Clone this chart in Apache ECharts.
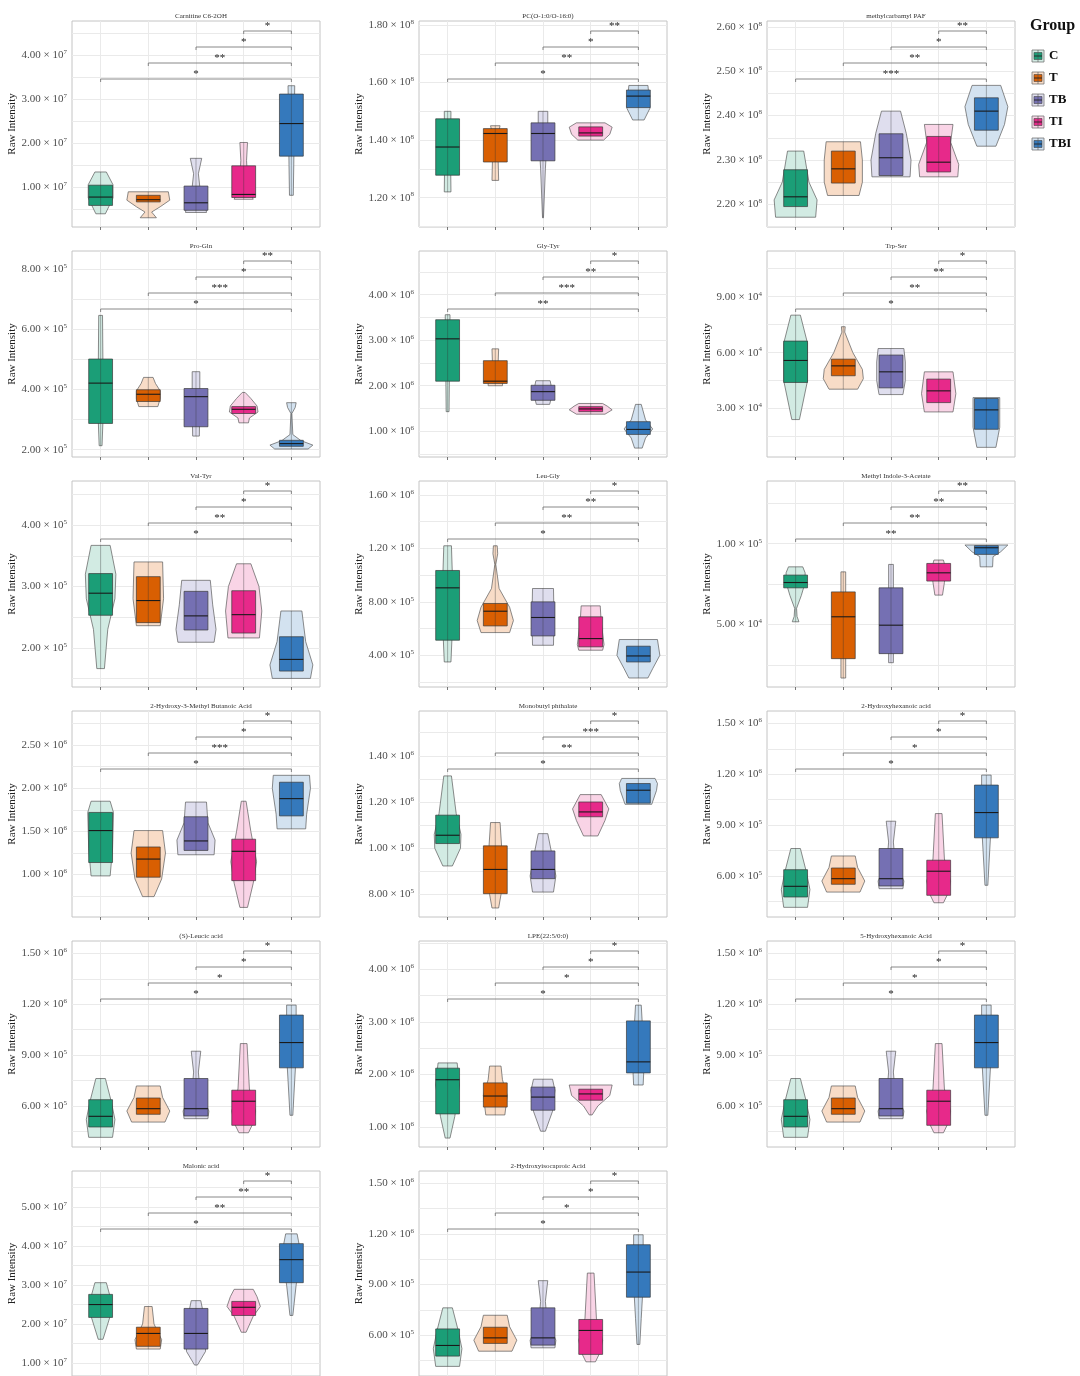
<!DOCTYPE html>
<html>
<head>
<meta charset="utf-8">
<script src="https://cdn.jsdelivr.net/npm/echarts@6/dist/echarts.min.js"></script>
<style>
  html, body { margin: 0; padding: 0; background: #fff; }
  #chart { width: 1080px; height: 1376px; }
</style>
</head>
<body>
<div id="chart"></div>
<script>
const groups = ['C', 'T', 'TB', 'TI', 'TBI'];
const groupColors = ['#1b9e77', '#d95f02', '#7570b3', '#e7298a', '#3579bc'];
const groupLight = ['#d2ebe3', '#f8dcc7', '#dfdeee', '#f9d4e6', '#d3e2f0'];

const panelTitles = [
    'Carnitine C6-2OH', 'PC(O-1:0/O-16:0)', 'methylcarbamyl PAF',
    'Pro-Gln', 'Gly-Tyr', 'Trp-Ser',
    'Val-Tyr', 'Leu-Gly', 'Methyl Indole-3-Acetate',
    '2-Hydroxy-3-Methyl Butanoic Acid', 'Monobutyl phthalate', '2-Hydroxyhexanoic acid',
    '(S)-Leucic acid', 'LPE(22:5/0:0)', '5-Hydroxyhexanoic Acid',
    'Malonic acid', '2-Hydroxyisocaproic Acid'
];
// every value below is in the panel's unit
const panelUnits = [1e7, 1e8, 1e8, 1e5, 1e6, 1e4, 1e5, 1e5, 1e4, 1e6, 1e5, 1e5, 1e5, 1e6, 1e5, 1e7, 1e5];
const panelRanges = [
    [0.09, 4.77], [1.098, 1.814], [2.149, 2.613],
    [1.755, 8.60], [0.434, 4.96], [0.403, 11.45],
    [1.36, 4.72], [1.625, 17.05], [1.136, 13.88],
    [0.509, 2.895], [7.02, 15.94], [3.58, 15.73],
    [3.58, 15.73], [0.62, 4.54], [3.58, 15.73],
    [0.67, 5.92], [3.58, 15.73]
];
const panelTicks = [
    [1, 2, 3, 4], [1.2, 1.4, 1.6, 1.8], [2.2, 2.3, 2.4, 2.5, 2.6],
    [2, 4, 6, 8], [1, 2, 3, 4], [3, 6, 9],
    [2, 3, 4], [4, 8, 12, 16], [5, 10],
    [1, 1.5, 2, 2.5], [8, 10, 12, 14], [6, 9, 12, 15],
    [6, 9, 12, 15], [1, 2, 3, 4], [6, 9, 12, 15],
    [1, 2, 3, 4, 5], [6, 9, 12, 15]
];
// significance of C, T, TB, TI against TBI
const panelSig = [
    ['*', '**', '*', '*'], ['*', '**', '*', '**'], ['***', '**', '*', '**'],
    ['*', '***', '*', '**'], ['**', '***', '**', '*'], ['*', '**', '**', '*'],
    ['*', '**', '*', '*'], ['*', '**', '**', '*'], ['**', '**', '**', '**'],
    ['*', '***', '*', '*'], ['*', '**', '***', '*'], ['*', '*', '*', '*'],
    ['*', '*', '*', '*'], ['*', '*', '*', '*'], ['*', '*', '*', '*'],
    ['*', '**', '**', '*'], ['*', '*', '*', '*']
];

// box stats per group: [min, q1, median, q3, max]
const carnitineBox = [[0.39, 0.58, 0.77, 1.04, 1.34], [0.30, 0.66, 0.71, 0.81, 0.89], [0.42, 0.47, 0.64, 1.02, 1.65], [0.72, 0.76, 0.83, 1.48, 2.01], [0.81, 1.70, 2.44, 3.11, 3.30]];
const pcBox = [[1.22, 1.278, 1.376, 1.474, 1.50], [1.26, 1.324, 1.423, 1.44, 1.45], [1.13, 1.328, 1.423, 1.46, 1.50], [1.40, 1.414, 1.425, 1.446, 1.46], [1.47, 1.513, 1.553, 1.574, 1.59]];
const pafBox = [[2.171, 2.195, 2.217, 2.278, 2.32], [2.22, 2.248, 2.28, 2.32, 2.341], [2.262, 2.265, 2.305, 2.359, 2.41], [2.262, 2.273, 2.295, 2.353, 2.38], [2.331, 2.367, 2.41, 2.44, 2.468]];
const proGlnBox = [[2.13, 2.87, 4.21, 5.01, 6.46], [3.43, 3.60, 3.84, 3.99, 4.40], [2.45, 2.76, 3.76, 4.03, 4.59], [2.89, 3.20, 3.34, 3.43, 3.90], [2.02, 2.11, 2.20, 2.31, 3.56]];
const glyTyrBox = [[1.43, 2.10, 3.03, 3.45, 3.56], [2.0, 2.05, 2.10, 2.55, 2.81], [1.59, 1.68, 1.87, 2.01, 2.11], [1.375, 1.43, 1.49, 1.54, 1.61], [0.63, 0.93, 1.04, 1.21, 1.59]];
const trpSerBox = [[2.41, 4.40, 5.58, 6.62, 8.01], [4.04, 4.76, 5.29, 5.65, 7.39], [3.75, 4.11, 4.97, 5.87, 6.22], [2.82, 3.32, 3.95, 4.58, 4.97], [0.92, 1.89, 2.93, 3.54, 3.59]];
const valTyrBox = [[1.66, 2.53, 2.89, 3.21, 3.67], [2.36, 2.41, 2.77, 3.16, 3.40], [2.09, 2.29, 2.52, 2.92, 3.10], [2.16, 2.24, 2.54, 2.93, 3.37], [1.50, 1.62, 1.81, 2.18, 2.60]];
const leuGlyBox = [[3.5, 5.13, 9.05, 10.35, 12.2], [5.7, 6.2, 7.3, 7.88, 12.2], [4.75, 5.45, 6.83, 8.0, 9.0], [4.38, 4.63, 5.25, 6.88, 7.7], [2.3, 3.5, 3.95, 4.68, 5.18]];
const indoleBox = [[5.17, 7.27, 7.60, 8.06, 8.57], [1.69, 2.89, 5.48, 7.02, 8.26], [2.64, 3.2, 4.96, 7.27, 8.72], [6.82, 7.69, 8.20, 8.78, 8.99], [8.57, 9.34, 9.75, 9.88, 9.92]];
const butanoicBox = [[0.985, 1.14, 1.51, 1.72, 1.85], [0.745, 0.97, 1.18, 1.32, 1.51], [1.23, 1.28, 1.39, 1.67, 1.84], [0.62, 0.93, 1.27, 1.41, 1.85], [1.53, 1.68, 1.88, 2.07, 2.15]];
const phthalateBox = [[9.23, 10.2, 10.56, 11.43, 13.13], [7.41, 8.03, 9.08, 10.1, 11.11], [8.1, 8.68, 9.08, 9.88, 10.63], [10.53, 11.36, 11.57, 12.0, 12.32], [11.9, 11.95, 12.51, 12.8, 13.02]];
const hexanoicBox = [[4.15, 4.76, 5.39, 6.37, 7.62], [5.05, 5.51, 5.84, 6.47, 7.18], [5.25, 5.41, 5.84, 7.62, 9.23], [4.42, 4.86, 6.28, 6.93, 9.68], [5.45, 8.25, 9.74, 11.36, 11.95]];
const lpeBox = [[0.79, 1.25, 1.9, 2.12, 2.22], [1.23, 1.38, 1.59, 1.84, 2.16], [0.92, 1.32, 1.57, 1.76, 1.91], [1.23, 1.51, 1.63, 1.72, 1.80], [1.8, 2.03, 2.24, 3.02, 3.32]];
const malonicBox = [[1.61, 2.17, 2.5, 2.76, 3.06], [1.36, 1.43, 1.76, 1.92, 2.45], [0.95, 1.36, 1.76, 2.4, 2.6], [1.79, 2.22, 2.43, 2.58, 2.89], [2.22, 3.06, 3.65, 4.06, 4.31]];

// violin outline per group: [value, half width in category units], bottom to top
const carnitineViolin = [
    [[0.39, 0.10], [0.75, 0.26], [1.05, 0.26], [1.34, 0.12]],
    [[0.30, 0.17], [0.43, 0.07], [0.55, 0.25], [0.70, 0.45], [0.89, 0.42]],
    [[0.42, 0.22], [0.60, 0.20], [1.00, 0.08], [1.30, 0.05], [1.65, 0.12]],
    [[0.72, 0.20], [0.85, 0.15], [1.20, 0.08], [1.60, 0.06], [2.01, 0.08]],
    [[0.81, 0.04], [1.50, 0.05], [2.50, 0.06], [3.30, 0.07]]
];
const pcViolin = [
    [[1.22, 0.07], [1.36, 0.06], [1.50, 0.07]],
    [[1.26, 0.07], [1.33, 0.06], [1.40, 0.03], [1.45, 0.10]],
    [[1.13, 0.01], [1.30, 0.05], [1.45, 0.10], [1.50, 0.10]],
    [[1.40, 0.27], [1.42, 0.40], [1.445, 0.45], [1.46, 0.30]],
    [[1.47, 0.12], [1.51, 0.24], [1.555, 0.22], [1.59, 0.20]]
];
const pafViolin = [
    [[2.171, 0.42], [2.21, 0.45], [2.25, 0.28], [2.32, 0.17]],
    [[2.22, 0.33], [2.25, 0.40], [2.30, 0.40], [2.341, 0.36]],
    [[2.262, 0.40], [2.30, 0.42], [2.36, 0.32], [2.41, 0.20]],
    [[2.262, 0.40], [2.29, 0.42], [2.34, 0.25], [2.38, 0.30]],
    [[2.331, 0.20], [2.38, 0.38], [2.42, 0.45], [2.468, 0.30]]
];
const proGlnViolin = [
    [[2.13, 0.03], [3.0, 0.05], [4.5, 0.05], [6.46, 0.04]],
    [[3.43, 0.20], [3.70, 0.25], [3.95, 0.25], [4.20, 0.15], [4.40, 0.10]],
    [[2.45, 0.07], [3.5, 0.08], [4.59, 0.08]],
    [[2.89, 0.10], [3.05, 0.12], [3.25, 0.30], [3.45, 0.28], [3.70, 0.15], [3.90, 0.03]],
    [[2.02, 0.35], [2.15, 0.45], [2.30, 0.20], [2.50, 0.03], [3.20, 0.01], [3.40, 0.08], [3.56, 0.10]]
];
const glyTyrViolin = [
    [[1.43, 0.03], [2.5, 0.04], [3.56, 0.05]],
    [[2.0, 0.15], [2.15, 0.15], [2.5, 0.06], [2.81, 0.07]],
    [[1.59, 0.14], [1.85, 0.20], [2.11, 0.15]],
    [[1.375, 0.30], [1.47, 0.45], [1.55, 0.35], [1.61, 0.25]],
    [[0.63, 0.08], [0.85, 0.15], [1.05, 0.30], [1.25, 0.15], [1.59, 0.06]]
];
const trpSerViolin = [
    [[2.41, 0.08], [4.5, 0.25], [6.5, 0.25], [8.01, 0.10]],
    [[4.04, 0.30], [4.6, 0.42], [5.1, 0.40], [6.0, 0.20], [7.1, 0.03], [7.39, 0.04]],
    [[3.75, 0.25], [4.5, 0.30], [5.5, 0.30], [6.22, 0.27]],
    [[2.82, 0.30], [3.8, 0.36], [4.97, 0.30]],
    [[0.92, 0.20], [2.0, 0.28], [3.59, 0.28]]
];
const valTyrViolin = [
    [[1.66, 0.08], [2.3, 0.15], [2.8, 0.30], [3.2, 0.32], [3.67, 0.20]],
    [[2.36, 0.25], [2.8, 0.32], [3.40, 0.30]],
    [[2.09, 0.38], [2.3, 0.42], [2.7, 0.35], [3.10, 0.30]],
    [[2.16, 0.33], [2.6, 0.38], [3.0, 0.32], [3.37, 0.15]],
    [[1.50, 0.40], [1.72, 0.45], [2.1, 0.30], [2.60, 0.22]]
];
const leuGlyViolin = [
    [[3.5, 0.07], [6, 0.10], [10, 0.10], [12.2, 0.08]],
    [[5.7, 0.30], [6.6, 0.38], [7.6, 0.30], [9.0, 0.08], [10.8, 0.01], [11.6, 0.05], [12.2, 0.04]],
    [[4.75, 0.22], [7, 0.23], [9.0, 0.22]],
    [[4.38, 0.25], [4.8, 0.28], [6.5, 0.22], [7.7, 0.20]],
    [[2.3, 0.20], [3.0, 0.30], [4.0, 0.45], [5.18, 0.40]]
];
const indoleViolin = [
    [[5.17, 0.07], [5.5, 0.03], [6.0, 0.02], [6.8, 0.12], [7.6, 0.20], [8.2, 0.20], [8.57, 0.15]],
    [[1.69, 0.05], [5, 0.05], [8.26, 0.05]],
    [[2.64, 0.05], [5.5, 0.05], [8.72, 0.05]],
    [[6.82, 0.08], [7.6, 0.12], [8.4, 0.15], [8.99, 0.10]],
    [[8.57, 0.13], [9.2, 0.14], [9.5, 0.30], [9.92, 0.45]]
];
const butanoicViolin = [
    [[0.985, 0.20], [1.3, 0.25], [1.72, 0.27], [1.85, 0.20]],
    [[0.745, 0.12], [0.95, 0.28], [1.25, 0.36], [1.51, 0.30]],
    [[1.23, 0.38], [1.40, 0.40], [1.6, 0.25], [1.84, 0.22]],
    [[0.62, 0.08], [0.9, 0.20], [1.15, 0.27], [1.5, 0.15], [1.85, 0.05]],
    [[1.53, 0.30], [1.7, 0.32], [2.0, 0.40], [2.15, 0.38]]
];
const phthalateViolin = [
    [[9.23, 0.10], [10.0, 0.27], [10.6, 0.28], [11.5, 0.18], [13.13, 0.08]],
    [[7.41, 0.07], [8.0, 0.12], [9.5, 0.15], [11.11, 0.10]],
    [[8.1, 0.22], [8.8, 0.27], [9.8, 0.18], [10.63, 0.10]],
    [[10.53, 0.15], [11.2, 0.30], [11.7, 0.38], [12.32, 0.22]],
    [[11.9, 0.28], [12.5, 0.38], [12.8, 0.40], [13.02, 0.35]]
];
const hexanoicViolin = [
    [[4.15, 0.25], [5.2, 0.30], [6.3, 0.22], [7.62, 0.10]],
    [[5.05, 0.35], [5.7, 0.45], [6.5, 0.30], [7.18, 0.25]],
    [[5.25, 0.25], [5.7, 0.27], [7.0, 0.08], [8.0, 0.05], [9.23, 0.10]],
    [[4.42, 0.10], [5.0, 0.20], [5.7, 0.25], [7.0, 0.12], [9.68, 0.07]],
    [[5.45, 0.03], [7.0, 0.06], [9.0, 0.10], [11.0, 0.10], [11.95, 0.10]]
];
const lpeViolin = [
    [[0.79, 0.05], [1.2, 0.15], [1.8, 0.25], [2.22, 0.20]],
    [[1.23, 0.20], [1.6, 0.25], [1.9, 0.15], [2.16, 0.12]],
    [[0.92, 0.05], [1.3, 0.20], [1.7, 0.25], [1.91, 0.20]],
    [[1.23, 0.03], [1.4, 0.15], [1.6, 0.40], [1.8, 0.45]],
    [[1.8, 0.10], [2.2, 0.12], [3.0, 0.08], [3.32, 0.06]]
];
const malonicViolin = [
    [[1.61, 0.05], [2.2, 0.20], [2.7, 0.20], [3.06, 0.12]],
    [[1.36, 0.25], [1.6, 0.28], [2.0, 0.12], [2.45, 0.08]],
    [[0.95, 0.03], [1.3, 0.20], [2.0, 0.20], [2.6, 0.10]],
    [[1.79, 0.05], [2.2, 0.20], [2.45, 0.35], [2.7, 0.28], [2.89, 0.20]],
    [[2.22, 0.03], [3.0, 0.10], [3.8, 0.20], [4.31, 0.12]]
];

const panelBoxes = [carnitineBox, pcBox, pafBox, proGlnBox, glyTyrBox, trpSerBox, valTyrBox, leuGlyBox, indoleBox,
    butanoicBox, phthalateBox, hexanoicBox, hexanoicBox, lpeBox, hexanoicBox, malonicBox, hexanoicBox];
const panelViolins = [carnitineViolin, pcViolin, pafViolin, proGlnViolin, glyTyrViolin, trpSerViolin, valTyrViolin, leuGlyViolin, indoleViolin,
    butanoicViolin, phthalateViolin, hexanoicViolin, hexanoicViolin, lpeViolin, hexanoicViolin, malonicViolin, hexanoicViolin];

// layout
const colLeft = [72, 419, 767];
const rowTop = [21, 251, 481, 711, 941, 1171];
const panelW = 248, panelH = 206;
const bracketOffsets = [58, 42, 26, 10];
const serif = '"Liberation Serif", "Times New Roman", serif';

const myChart = echarts.init(document.getElementById('chart'), null, {renderer: 'canvas'});

function sciLabel(v) {
    const e = Math.floor(Math.log10(v) + 1e-9);
    const m = v / Math.pow(10, e);
    return '{a|' + m.toFixed(2) + ' × 10}{b|' + e + '}';
}

const grids = [], xAxes = [], yAxes = [], titles = [], series = [];

panelTitles.forEach(function (name, p) {
    const col = p % 3, row = Math.floor(p / 3);
    const unit = panelUnits[p];
    const ticks = panelTicks[p].map(t => t * unit);
    const step = ticks[1] - ticks[0];
    const lo = panelRanges[p][0] * unit, hi = panelRanges[p][1] * unit;
    // major breaks plus the minor breaks half way between them
    const gridVals = [];
    for (let i = -1; i < ticks.length; i++) {
        const mid = ticks[Math.max(i, 0)] + (i < 0 ? -step / 2 : step / 2);
        if (i >= 0) gridVals.push(ticks[i]);
        if (mid > lo && mid < hi) gridVals.push(mid);
    }

    grids.push({
        left: colLeft[col], top: rowTop[row], width: panelW, height: panelH,
        show: true, borderColor: '#c4c4c4', borderWidth: 1, backgroundColor: 'transparent'
    });
    xAxes.push({
        type: 'value', gridIndex: p, min: 0.4, max: 5.6,
        axisLine: {show: false},
        axisLabel: {show: false},
        axisTick: {show: true, customValues: [1, 2, 3, 4, 5], length: 3, lineStyle: {color: '#555', width: 0.8}},
        splitLine: {show: true, lineStyle: {color: '#eaeaea', width: 1}}
    });
    yAxes.push({
        type: 'value', gridIndex: p, min: lo, max: hi,
        name: 'Raw Intensity', nameLocation: 'middle', nameGap: 50,
        nameTextStyle: {fontFamily: serif, fontSize: 11, color: '#222'},
        axisLine: {show: false},
        axisTick: {show: false, customValues: gridVals},
        axisLabel: {
            customValues: ticks, margin: 5,
            formatter: sciLabel,
            rich: {
                a: {fontFamily: serif, fontSize: 11, color: '#4d4d4d', lineHeight: 13},
                b: {fontFamily: serif, fontSize: 7, color: '#4d4d4d', lineHeight: 7, verticalAlign: 'top'}
            }
        },
        splitLine: {show: true, lineStyle: {color: '#eaeaea', width: 1}}
    });
    titles.push({
        text: name, left: colLeft[col] + panelW / 2, top: rowTop[row] - 13, textAlign: 'center',
        textStyle: {fontFamily: serif, fontSize: 7, fontWeight: 'normal', color: '#333'}
    });

    const violins = panelViolins[p];
    series.push({
        type: 'custom', xAxisIndex: p, yAxisIndex: p, silent: true,
        data: violins.map((shape, g) => [g + 1, shape[0][0] * unit, shape[shape.length - 1][0] * unit]),
        encode: {x: 0, y: [1, 2]},
        renderItem: function (params, api) {
            const g = params.dataIndex;
            const shape = violins[g];
            const x = g + 1;
            const right = shape.map(pt => api.coord([x + pt[1], pt[0] * unit]));
            const left = shape.slice().reverse().map(pt => api.coord([x - pt[1], pt[0] * unit]));
            return {
                type: 'polygon', shape: {points: right.concat(left)},
                style: {fill: groupLight[g], stroke: '#5a5a5a', lineWidth: 0.7}
            };
        }
    });

    series.push({
        type: 'custom', xAxisIndex: p, yAxisIndex: p, silent: true,
        data: panelBoxes[p].map((b, g) => [g + 1].concat(b.map(v => v * unit))),
        encode: {x: 0, y: [1, 2, 3, 4, 5]},
        renderItem: function (params, api) {
            const g = params.dataIndex;
            const x = api.value(0);
            const pMin = api.coord([x, api.value(1)]);
            const pMax = api.coord([x, api.value(5)]);
            const q1 = api.coord([x - 0.25, api.value(2)]);
            const q3 = api.coord([x + 0.25, api.value(4)]);
            const medL = api.coord([x - 0.25, api.value(3)]);
            const medR = api.coord([x + 0.25, api.value(3)]);
            return {
                type: 'group', children: [
                    {type: 'rect', shape: {x: q1[0], y: q3[1], width: q3[0] - q1[0], height: q1[1] - q3[1]},
                        style: {fill: groupColors[g], stroke: '#3a3a3a', lineWidth: 0.7}},
                    {type: 'line', shape: {x1: pMin[0], y1: pMin[1], x2: pMax[0], y2: pMax[1]},
                        style: {stroke: '#333', lineWidth: 0.6, opacity: 0.6}},
                    {type: 'line', shape: {x1: medL[0], y1: medL[1], x2: medR[0], y2: medR[1]},
                        style: {stroke: '#1a1a1a', lineWidth: 1.1}}
                ]
            };
        }
    });

    const sig = panelSig[p];
    series.push({
        type: 'custom', xAxisIndex: p, yAxisIndex: p, silent: true,
        data: sig.map((s, k) => [k + 1, 5, lo]),
        encode: {x: [0, 1], y: 2},
        renderItem: function (params, api) {
            const k = params.dataIndex;
            const cs = params.coordSys;
            const x1 = api.coord([api.value(0), lo])[0];
            const x2 = api.coord([api.value(1), lo])[0];
            const y = cs.y + bracketOffsets[k];
            return {
                type: 'group', children: [
                    {type: 'polyline', shape: {points: [[x1, y + 3], [x1, y], [x2, y], [x2, y + 3]]},
                        style: {stroke: '#7a7a7a', lineWidth: 0.9, fill: 'none'}},
                    {type: 'text', style: {text: sig[k], x: (x1 + x2) / 2, y: y + 1, align: 'center', verticalAlign: 'bottom',
                        font: '11px ' + serif, fill: '#222'}}
                ]
            };
        }
    });
});

// legend drawn as graphics
const legendEls = [{
    type: 'text', left: 1030, top: 18,
    style: {text: 'Group', font: 'bold 16px ' + serif, fill: '#111'}
}];
groups.forEach(function (g, i) {
    const cy = 56 + 22 * i;
    legendEls.push(
        {type: 'rect', shape: {x: 1032, y: cy - 6, width: 12, height: 12}, style: {fill: groupLight[i], stroke: '#777', lineWidth: 0.8}},
        {type: 'rect', shape: {x: 1034, y: cy - 3.5, width: 8, height: 7}, style: {fill: groupColors[i], stroke: '#444', lineWidth: 0.6}},
        {type: 'line', shape: {x1: 1038, y1: cy - 6, x2: 1038, y2: cy + 6}, style: {stroke: '#555', lineWidth: 0.6}},
        {type: 'line', shape: {x1: 1034, y1: cy, x2: 1042, y2: cy}, style: {stroke: '#222', lineWidth: 0.9}},
        {type: 'text', x: 1049, y: cy, style: {text: g, font: 'bold 13px ' + serif, fill: '#111', verticalAlign: 'middle'}}
    );
});

myChart.setOption({
    backgroundColor: '#fff',
    animation: false,
    title: titles,
    grid: grids,
    xAxis: xAxes,
    yAxis: yAxes,
    series: series,
    graphic: legendEls
});
</script>
</body>
</html>
